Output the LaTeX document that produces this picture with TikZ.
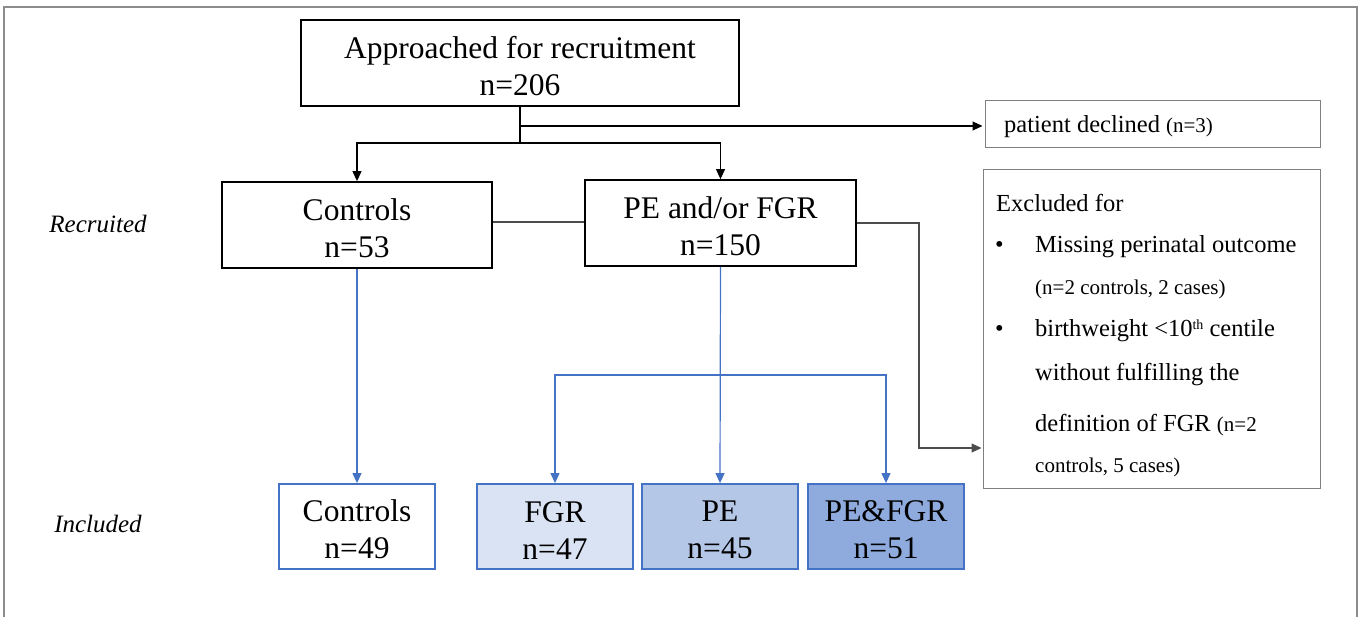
\documentclass[tikz,border=0pt]{standalone}
\usepackage{fontspec}
\setmainfont{Liberation Serif}
\usetikzlibrary{arrows.meta}
\definecolor{bl}{HTML}{4472C4}
\definecolor{f1}{HTML}{DAE3F3}
\definecolor{f2}{HTML}{B4C7E7}
\definecolor{f3}{HTML}{8FAADC}
\definecolor{fr}{HTML}{8C8C8C}
\newcommand\smallsz{\fontsize{21}{24}\selectfont}
\newcommand\tstrut{\rule{0pt}{28pt}}
\tikzset{
  bigbox/.style={draw=black, line width=1.8pt, inner sep=0pt, align=center, font=\fontsize{31.5}{37}\selectfont},
  smbox/.style={draw=black!50, line width=1pt, inner sep=0pt},
  incbox/.style={draw=bl, line width=1.8pt, inner sep=0pt, align=center, minimum width=156pt, minimum height=85pt, font=\fontsize{31.5}{37}\selectfont},
  blk/.style={draw=black, line width=1.1pt},
  gry/.style={draw=black!70, line width=1.1pt},
  blu/.style={draw=bl, line width=1.2pt},
  arr/.style={-{Triangle[length=10pt,width=9pt]}},
  txt/.style={inner sep=0pt, anchor=west, font=\fontsize{24.5}{28}\selectfont},
  sml/.style={font=\smallsz},
  lab/.style={inner sep=0pt, font=\fontsize{25}{28}\selectfont\itshape}
}
\begin{document}
\begin{tikzpicture}[x=1pt,y=-1pt]
\useasboundingbox (0,0) rectangle (1361,617);
\draw[fr, line width=1.3pt] (4,617) -- (4,7) -- (1357,7) -- (1357,617);

\node[bigbox, minimum width=438pt, minimum height=86pt] (top) at (520,63) {\tstrut Approached for recruitment\\n=206};
\node[bigbox, minimum width=270pt, minimum height=86pt] (ctrl) at (357,225) {\tstrut Controls\\n=53};
\node[bigbox, minimum width=271pt, minimum height=86pt] (pe) at (720.5,223) {\tstrut PE and/or FGR\\n=150};

\node[smbox, minimum width=335pt, minimum height=47pt] (dec) at (1152.5,124.5) {};
\node[txt] (dectxt) at (1004,127) {patient declined {\smallsz(n=3)}};

\node[smbox, minimum width=337pt, minimum height=319pt] (excl) at (1151.5,329.5) {};
\node[txt] (ex0) at (996,203) {Excluded for};
\node[txt] (b1) at (995,247) {•};
\node[txt] (ex1) at (1035,247) {Missing perinatal outcome};
\node[txt, sml] (ex2) at (1035,289) {(n=2 controls, 2 cases)};
\node[txt] (b2) at (995,331) {•};
\node[txt] (ex3) at (1035,331) {birthweight <10{\fontsize{14}{16}\selectfont\raisebox{7pt}{th}} centile};
\node[txt] (ex4) at (1035,375) {without fulfilling the};
\node[txt] (ex5) at (1035,425) {definition of FGR {\smallsz(n=2}};
\node[txt, sml] (ex6) at (1035,467) {controls, 5 cases)};

\node[incbox] (ctrl2) at (357,526.5) {\tstrut Controls\\n=49};
\node[incbox, fill=f1] (fgr) at (555,526.5) {\tstrut FGR\\n=47};
\node[incbox, fill=f2] (pe2) at (720,526.5) {\tstrut PE\\n=45};
\node[incbox, fill=f3] (pf) at (886,526.5) {\tstrut PE\&FGR\\n=51};

\node[lab] (rec) at (98,224) {Recruited};
\node[lab] (inc) at (98,524) {Included};

\coordinate (j0) at (520,126);
\coordinate (j1) at (520,143);
\coordinate (e1) at (919,448);
\coordinate (bj) at (720,375);

\draw[blk] (top.south) -- (j1);
\draw[blk, arr] (j0) -- ([xshift=-2pt]dec.west |- j0);
\draw[blk, arr] (j1) -| (ctrl.north);
\draw[blk, arr] (j1) -| (pe.north);
\draw[gry] (ctrl.east |- 0,222) -- (pe.west |- 0,222);
\draw[gry, arr] (pe.east) -| (e1) -- ([xshift=-1pt]excl.west |- e1);

\draw[blu, arr] (ctrl.south) -- (ctrl2.north);
\draw[blu, arr] (pe.south) -- (pe2.north);
\draw[blu, arr] (bj) -| (fgr.north);
\draw[blu, arr] (bj) -| (pf.north);
\end{tikzpicture}
\end{document}
